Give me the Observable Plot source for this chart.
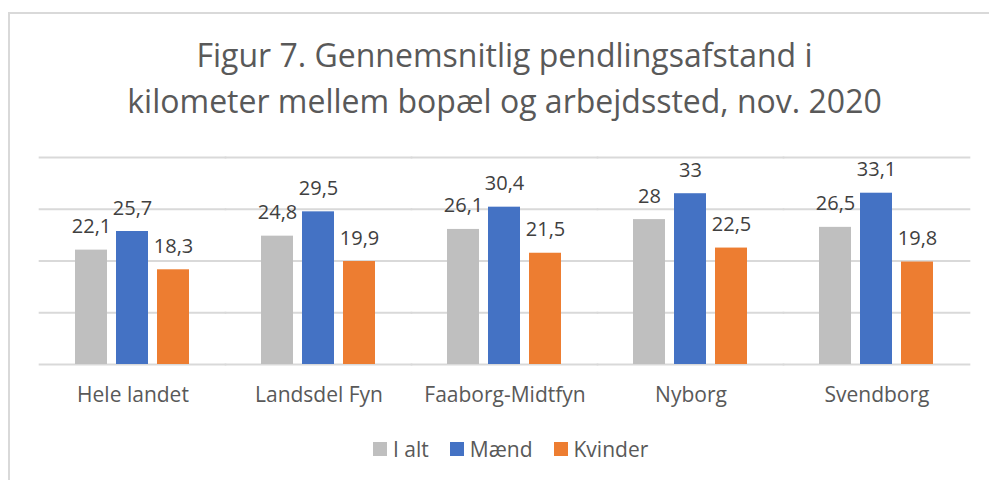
<!DOCTYPE html>
<html>
<head>
<meta charset="utf-8">
<script src="https://cdn.jsdelivr.net/npm/d3@7"></script>
<script src="https://cdn.jsdelivr.net/npm/@observablehq/plot@0.6"></script>
<style>
  html, body { margin: 0; padding: 0; background: #fff; overflow: hidden; }
  #wrap { position: relative; width: 989px; height: 480px; overflow: hidden; font-family: "Open Sans", sans-serif; }
  #frame { position: absolute; left: 8px; top: 12px; width: 1200px; height: 700px; border: 2px solid #d9d9d9; box-sizing: border-box; }
  #title { position: absolute; left: 0; top: 32px; width: 1009px; text-align: center; color: #595959; font-size: 32px; line-height: 46px; }
  #chart { position: absolute; left: 0; top: 0; }
  #legend { position: absolute; left: 373px; top: 437px; display: flex; align-items: center; color: #595959; font-size: 21px; line-height: 24px; }
  #legend .sw { width: 14px; height: 14px; margin-right: 6px; }
  #legend .item { display: flex; align-items: center; margin-right: 21px; }
</style>
</head>
<body>
<div id="wrap">
  <div id="frame"></div>
  <div id="title">Figur 7. Gennemsnitlig pendlingsafstand i<br>kilometer mellem bopæl og arbejdssted, nov. 2020</div>
  <div id="chart"></div>
  <div id="legend"></div>
</div>
<script>
const categories = ["Hele landet", "Landsdel Fyn", "Faaborg-Midtfyn", "Nyborg", "Svendborg"];
const seriesNames = ["I alt", "Mænd", "Kvinder"];
const iAlt = [22.1, 24.8, 26.1, 28, 26.5];
const maend = [25.7, 29.5, 30.4, 33, 33.1];
const kvinder = [18.3, 19.9, 21.5, 22.5, 19.8];
const seriesColors = ["#BFBFBF", "#4472C4", "#ED7D31"];
const yTicks = [0, 10, 20, 30, 40];

const seriesValues = [iAlt, maend, kvinder];
const rows = [];
categories.forEach((c, i) => {
  seriesNames.forEach((s, j) => {
    rows.push({category: c, series: s, value: seriesValues[j][i]});
  });
});
const fmt = v => String(v).replace(".", ",");

const step = (989 - 38 - 18) / 5;
const chart = Plot.plot({
  width: 989,
  height: 480,
  marginLeft: 38,
  marginRight: 18,
  marginTop: 157,
  marginBottom: 116,
  style: {fontFamily: "Open Sans, sans-serif", background: "transparent"},
  fx: {domain: categories, paddingInner: 0.384, paddingOuter: 0.192, label: null},
  x: {domain: seriesNames, paddingInner: 0.21, paddingOuter: 0, axis: null},
  y: {domain: [0, 40], axis: null},
  color: {domain: seriesNames, range: seriesColors},
  marks: [
    Plot.ruleY(yTicks, {stroke: "#d9d9d9", strokeWidth: 1.8, insetLeft: -step * 0.192 - 0.5, insetRight: -step * 0.192 - 0.5}),
    Plot.barY(rows, {fx: "category", x: "series", y: "value", fill: "series"}),
    Plot.text(rows, {fx: "category", x: "series", y: "value", text: d => fmt(d.value), lineAnchor: "bottom", dy: -17, fontSize: 20, fill: "#404040"}),
    Plot.axisFx({anchor: "bottom", tickSize: 0, tickPadding: 23, fontSize: 21, color: "#595959", label: null})
  ]
});
document.getElementById("chart").appendChild(chart);

const legend = document.getElementById("legend");
seriesNames.forEach((s, i) => {
  const item = document.createElement("div");
  item.className = "item";
  const sw = document.createElement("div");
  sw.className = "sw";
  sw.style.background = seriesColors[i];
  const t = document.createElement("span");
  t.textContent = s;
  item.appendChild(sw);
  item.appendChild(t);
  legend.appendChild(item);
});
</script>
</body>
</html>
